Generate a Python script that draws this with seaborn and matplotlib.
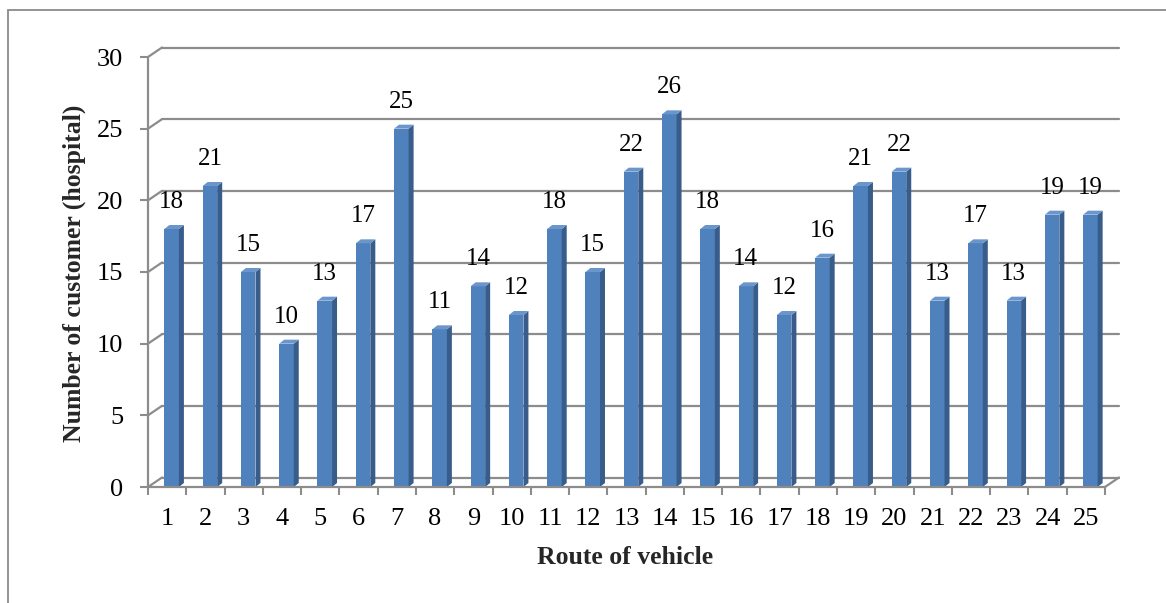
import numpy as np
import pandas as pd
import seaborn as sns
import matplotlib.pyplot as plt
from matplotlib.patches import Polygon, Rectangle
from matplotlib.lines import Line2D

# Data
routes = [str(i) for i in range(1, 26)]
customers = [18, 21, 15, 10, 13, 17, 25, 11, 14, 12, 18, 15, 22, 26, 18,
             14, 12, 16, 21, 22, 13, 17, 13, 19, 19]
y_ticks = [0, 5, 10, 15, 20, 25, 30]

sns.set_theme(style="white")
serif = ["Liberation Serif", "DejaVu Serif"]
plt.rcParams["font.family"] = serif

W, H = 1166, 603
fig = plt.figure(figsize=(W / 100, H / 100), dpi=100)
fig.patch.set_facecolor("white")

# plot area in pixels
left_px, right_px, bottom_px, top_px = 148, 1105, 487, 57
ax = fig.add_axes([left_px / W, (H - bottom_px) / H,
                   (right_px - left_px) / W, (bottom_px - top_px) / H])

df = pd.DataFrame({"route": routes, "customers": customers})
front = "#4F81BD"
side = "#385D8A"
topc = "#6A96CC"
grid_c = "#8C8C8C"

sns.barplot(data=df, x="route", y="customers", color=front, saturation=1,
            width=0.38, ax=ax, zorder=3, linewidth=0)
ax.set_xlim(-0.5, 24.5)
ax.set_ylim(0, 30)

ppx = (right_px - left_px) / 25.0   # pixels per x unit
ppy = (bottom_px - top_px) / 30.0   # pixels per y unit

# depth of the bars and of the back wall (pixels)
bdx, bdy = 5 / ppx, 4 / ppy
gdx, gdy = 14 / ppx, 9.5 / ppy
shift = 4.5 / ppx

for p, val in zip(ax.patches, customers):
    p.set_x(p.get_x() + shift)
    x0 = p.get_x()
    x1 = x0 + p.get_width()
    h = p.get_height()
    ax.add_patch(Polygon([(x1, 0), (x1 + bdx, bdy), (x1 + bdx, h + bdy), (x1, h)],
                         closed=True, facecolor=side, edgecolor="none", zorder=3))
    ax.add_patch(Polygon([(x0, h), (x0 + bdx, h + bdy), (x1 + bdx, h + bdy), (x1, h)],
                         closed=True, facecolor=topc, edgecolor="none", zorder=3))
    ax.annotate(f"{val}", xy=((x0 + x1) / 2, h), xytext=(0, 19.5),
                textcoords="offset points", ha="center", va="center",
                fontsize=18, family=serif, color="black", zorder=5)

# back wall gridlines with their left diagonal connectors
lw = 1.6
for yv in y_ticks:
    ax.add_line(Line2D([-0.5 + gdx, 24.5 + gdx], [yv + gdy, yv + gdy],
                       color=grid_c, lw=lw, zorder=1, clip_on=False))
    ax.add_line(Line2D([-0.5, -0.5 + gdx], [yv, yv + gdy],
                       color=grid_c, lw=lw, zorder=1, clip_on=False))
# floor: front edge and right diagonal
ax.add_line(Line2D([-0.5, 24.5], [0, 0], color=grid_c, lw=lw, zorder=4, clip_on=False))
ax.add_line(Line2D([24.5, 24.5 + gdx], [0, gdy], color=grid_c, lw=lw, zorder=1, clip_on=False))
# front vertical axis
ax.add_line(Line2D([-0.5, -0.5], [0, 30], color=grid_c, lw=lw, zorder=4, clip_on=False))

for s in ax.spines.values():
    s.set_visible(False)

ax.set_yticks(y_ticks)
ax.set_yticklabels([str(v) for v in y_ticks])
ax.tick_params(axis="y", length=6, width=1.5, color=grid_c, pad=12,
               labelsize=19, labelcolor="black", left=True)
ax.set_xticks(range(25))
ax.set_xticklabels(routes)
ax.set_xticks(np.arange(-0.5, 25, 1), minor=True)
ax.tick_params(axis="x", which="major", length=0, pad=15, labelsize=19,
               labelcolor="black")
ax.tick_params(axis="x", which="minor", length=6, width=1.5, color=grid_c,
               bottom=True)
ax.grid(False)

ax.set_xlabel("Route of vehicle", fontsize=18.5, fontweight="bold", va="center")
ax.xaxis.set_label_coords((625 - left_px) / (right_px - left_px),
                          (bottom_px - 558) / (bottom_px - top_px))
ax.set_ylabel("Number of customer (hospital)", fontsize=18.5,
              fontweight="bold", va="center")
ax.yaxis.set_label_coords((74 - left_px) / (right_px - left_px),
                          (bottom_px - 273) / (bottom_px - top_px))

# chart frame
fig.add_artist(Rectangle((8 / W, -0.05), 1.2, 1 - 10 / H + 0.05,
                         transform=fig.transFigure, fill=False,
                         edgecolor="#8A8A8A", lw=1.3))

fig.savefig("out.png", dpi=100, facecolor="white")
